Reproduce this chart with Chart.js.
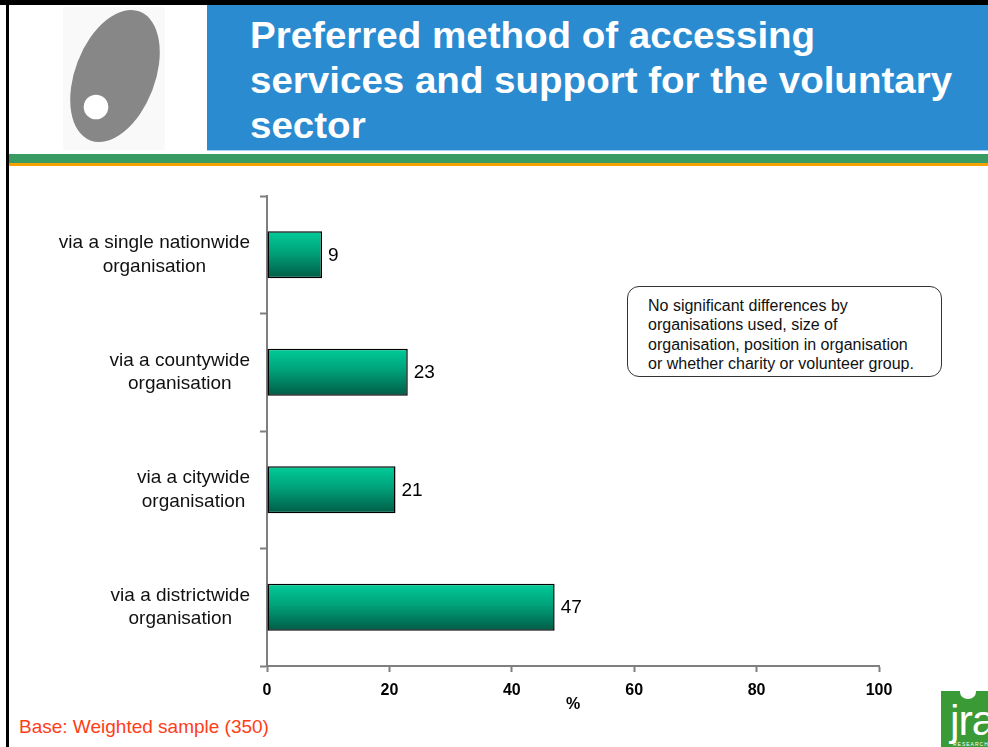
<!DOCTYPE html>
<html>
<head>
<meta charset="utf-8">
<title>Preferred method of accessing services and support for the voluntary sector</title>
<script src="https://cdn.jsdelivr.net/npm/chart.js@4.4.1/dist/chart.umd.min.js"></script>
<style>
  html, body { margin: 0; padding: 0; background: #fff; }
  body { width: 988px; height: 747px; position: relative; overflow: hidden; font-family: Arial, "Liberation Sans", sans-serif; }
  .topline { position: absolute; left: 0; top: 0; width: 988px; height: 5px; background: #000; }
  .leftline { position: absolute; left: 6px; top: 0; width: 3px; height: 747px; background: #000; }
  .logo { position: absolute; left: 0; top: 0; }
  .banner { position: absolute; left: 207px; top: 5px; width: 781px; height: 145px; background: #2b8bd1; border-bottom: 1px solid #a9d0ee; }
  .heading { position: absolute; left: 250px; top: 13px; color: #fff; font-weight: bold; font-size: 36px; line-height: 45px; white-space: nowrap;
             transform: scaleX(1.07); transform-origin: 0 0; }
  .green { position: absolute; left: 9px; top: 154px; width: 979px; height: 9px; background: #389c62; }
  .orange { position: absolute; left: 9px; top: 163px; width: 979px; height: 3px; background: #f5a100; }
  .note { position: absolute; left: 627px; top: 286px; width: 293px; height: 80px; border: 1px solid #333; border-radius: 12px;
          padding: 9px 0 0 20px; font-size: 16px; line-height: 19.3px; color: #111; white-space: nowrap; }
  .base { position: absolute; left: 19px; top: 715px; font-size: 19px; line-height: 24px; color: #ff3d17; white-space: nowrap; }
  .jra { position: absolute; left: 941px; top: 691px; width: 47px; height: 56px; background: #3a9a35; overflow: hidden; }
  .jra .dot { position: absolute; left: 19px; top: -6px; width: 16px; height: 14px; border-radius: 50%; background: #fff; }
  .jra .txt { position: absolute; left: 9px; top: 8px; color: #fff; font-family: "Liberation Sans Narrow", "Arial Narrow", Arial, sans-serif; font-size: 43px; line-height: 43px; letter-spacing: -1px; }
  .jra .small { position: absolute; left: 12px; top: 50px; color: #fff; font-size: 5px; letter-spacing: 1px; }
  #chart { position: absolute; left: 0; top: 0; }
</style>
</head>
<body>
<div class="topline"></div>
<svg class="logo" width="207" height="152">
  <rect x="63" y="7" width="102" height="143" fill="#f9f9f9"/>
  <ellipse cx="115" cy="76" rx="40" ry="69" transform="rotate(21 115 76)" fill="#878787"/>
  <circle cx="96" cy="107" r="12.3" fill="#fff"/>
</svg>
<div class="banner"></div>
<div class="heading">Preferred method of accessing<br>services and support for the voluntary<br>sector</div>
<div class="leftline"></div>
<div class="green"></div>
<div class="orange"></div>
<div class="note">No significant differences by<br>organisations used, size of<br>organisation, position in organisation<br>or whether charity or volunteer group.</div>
<div class="base">Base: Weighted sample (350)</div>
<div class="jra"><div class="dot"></div><div class="txt">jra</div><div class="small">RESEARCH</div></div>
<canvas id="chart" width="988" height="747"></canvas>
<script>
// categories top to bottom, each split into its two printed lines
const categories = [
  ['via a single nationwide', 'organisation'],
  ['via a countywide', 'organisation'],
  ['via a citywide', 'organisation'],
  ['via a districtwide', 'organisation']
];
const percentages = [9, 23, 21, 47];
const xTicks = [0, 20, 40, 60, 80, 100];

const BAR_PCT = 0.4;
const AXIS_GREY = '#7f7f7f';

// green bar shading, light on top and dark at the bottom of each bar
function barGradient(c) {
  const chart = c.chart;
  const y = chart.scales.y;
  if (!chart.chartArea || !y) return '#00a77d';
  const mid = y.getPixelForValue(c.dataIndex);
  const half = (y.getPixelForValue(1) - y.getPixelForValue(0)) * BAR_PCT / 2;
  const g = chart.ctx.createLinearGradient(0, mid - half, 0, mid + half);
  g.addColorStop(0, '#00cc99');
  g.addColorStop(0.45, '#00a27a');
  g.addColorStop(1, '#005c46');
  return g;
}

// value printed at the end of each bar
const valueLabels = {
  id: 'valueLabels',
  afterDatasetsDraw(chart) {
    const ctx = chart.ctx;
    const meta = chart.getDatasetMeta(0);
    ctx.save();
    ctx.font = '19px Arial, "Liberation Sans", sans-serif';
    ctx.fillStyle = '#000';
    ctx.textAlign = 'left';
    ctx.textBaseline = 'middle';
    meta.data.forEach((bar, i) => {
      ctx.fillText(String(percentages[i]), bar.x + 6, bar.y + 1);
    });
    ctx.restore();
  }
};

// category names: each block right aligned to the axis, its lines centred on each other
const categoryLabels = {
  id: 'categoryLabels',
  afterDraw(chart) {
    const ctx = chart.ctx;
    const y = chart.scales.y;
    const right = chart.chartArea.left - 17;
    const lineH = 23.5;
    ctx.save();
    ctx.font = '19px Arial, "Liberation Sans", sans-serif';
    ctx.fillStyle = '#111';
    ctx.textAlign = 'center';
    ctx.textBaseline = 'middle';
    categories.forEach((lines, i) => {
      const cy = y.getPixelForValue(i);
      const widest = Math.max(...lines.map(l => ctx.measureText(l).width));
      const cx = right - widest / 2;
      lines.forEach((line, j) => {
        ctx.fillText(line, cx, cy + (j - (lines.length - 1) / 2) * lineH);
      });
    });
    ctx.restore();
  }
};

new Chart(document.getElementById('chart'), {
  type: 'bar',
  data: {
    labels: categories.map(l => l.join(' ')),
    datasets: [{
      data: percentages,
      backgroundColor: barGradient,
      borderColor: '#000',
      borderWidth: 1.5,
      borderSkipped: false,
      barPercentage: BAR_PCT,
      categoryPercentage: 1
    }]
  },
  options: {
    indexAxis: 'y',
    responsive: false,
    animation: false,
    devicePixelRatio: 1,
    layout: { padding: { left: 0, top: 196, right: 109, bottom: 0 } },
    plugins: {
      legend: { display: false },
      tooltip: { enabled: false }
    },
    scales: {
      y: {
        offset: true,
        afterFit(scale) { scale.width = 267; },
        grid: { offset: true, drawOnChartArea: false, drawTicks: true, tickLength: 7, tickColor: AXIS_GREY, tickWidth: 2 },
        border: { color: AXIS_GREY, width: 2 },
        ticks: { display: false }
      },
      x: {
        min: 0,
        max: 100,
        afterFit(scale) { scale.height = 81; },
        afterBuildTicks(scale) { scale.ticks = xTicks.map(v => ({ value: v })); },
        grid: { drawOnChartArea: false, drawTicks: true, tickLength: 6, tickColor: AXIS_GREY, tickWidth: 2 },
        border: { color: AXIS_GREY, width: 2 },
        ticks: {
          color: '#000',
          padding: 9,
          font: { family: 'Arial, "Liberation Sans", sans-serif', size: 16, weight: 'bold' }
        },
        title: {
          display: true,
          text: '%',
          color: '#000',
          padding: { top: 0, bottom: 33 },
          font: { family: 'Arial, "Liberation Sans", sans-serif', size: 16, weight: 'bold' }
        }
      }
    }
  },
  plugins: [valueLabels, categoryLabels]
});
</script>
</body>
</html>
